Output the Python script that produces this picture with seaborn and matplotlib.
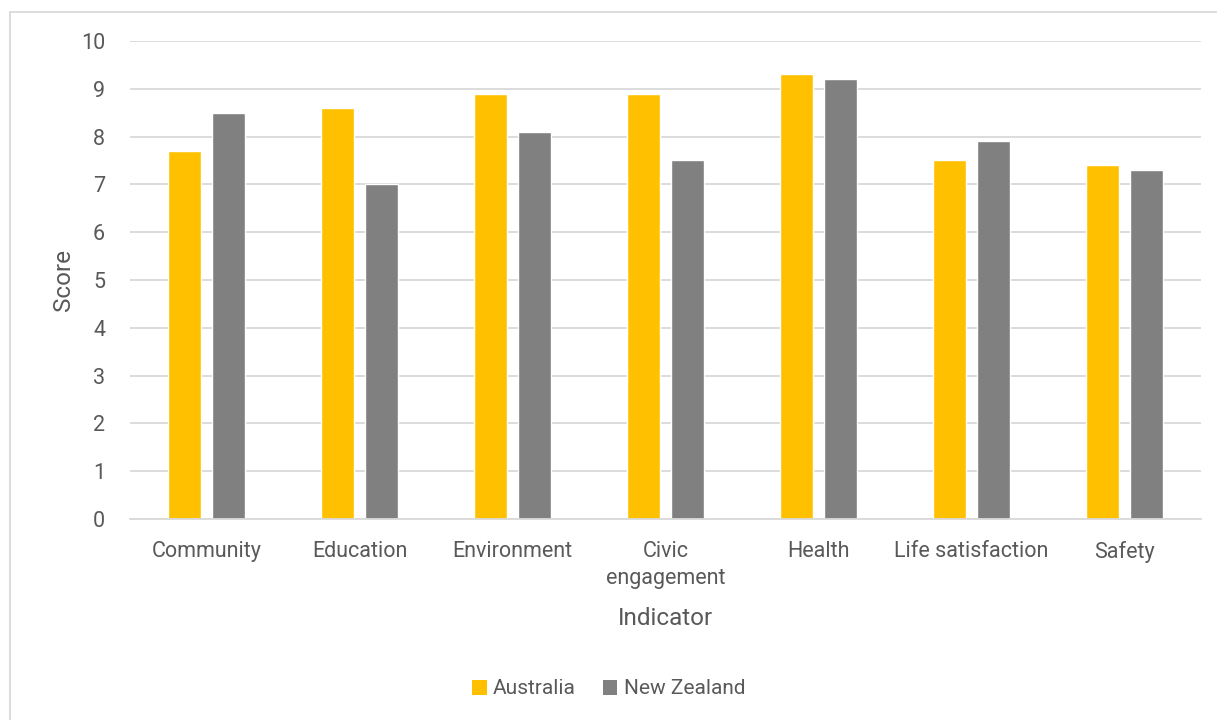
import matplotlib
matplotlib.use("Agg")
import matplotlib.pyplot as plt
import seaborn as sns
import pandas as pd
from matplotlib.patches import Rectangle, Patch

categories = ["Community", "Education", "Environment", "Civic\nengagement", "Health", "Life satisfaction", "Safety"]
australia = [7.7, 8.6, 8.9, 8.9, 9.3, 7.5, 7.4]
new_zealand = [8.5, 7.0, 8.1, 7.5, 9.2, 7.9, 7.3]
series = ["Australia", "New Zealand"]
colors = ["#FFC000", "#808080"]

df = pd.DataFrame({
    "Indicator": categories * 2,
    "Score": australia + new_zealand,
    "Country": [series[0]] * len(categories) + [series[1]] * len(categories),
})

sns.set_theme(style="white")
plt.rcParams["font.family"] = ["Roboto", "DejaVu Sans"]
text_color = "#595959"
grid_color = "#D9D9D9"

W, H = 1217, 720
fig = plt.figure(figsize=(W / 100, H / 100), dpi=100)
ax = fig.add_axes([130 / W, 1 - 519 / H, (1201 - 130) / W, (519 - 41) / H])

sns.barplot(data=df, x="Indicator", y="Score", hue="Country", order=categories,
            hue_order=series, palette=colors, width=0.575, gap=0.23,
            saturation=1, ax=ax, legend=False)

ax.set_ylim(0, 10)
ax.set_xlim(-0.5, len(categories) - 0.5)
ax.set_yticks(range(0, 11))
ax.yaxis.grid(True, color=grid_color, linewidth=1.3)
ax.set_axisbelow(True)
for s in ["top", "right", "left"]:
    ax.spines[s].set_visible(False)
ax.spines["bottom"].set_color(grid_color)
ax.spines["bottom"].set_linewidth(1.3)
ax.tick_params(axis="both", length=0, labelsize=15.5, colors=text_color)
ax.tick_params(axis="y", pad=18)
ax.tick_params(axis="x", pad=16)
for lbl in ax.get_xticklabels():
    lbl.set_linespacing(1.35)
ax.set_ylabel("Score", fontsize=17.5, color=text_color, labelpad=4)
ax.set_xlabel("Indicator", fontsize=17.5, color=text_color, labelpad=13)

handles = [Patch(facecolor=c, edgecolor="none") for c in colors]
fig.legend(handles, series, loc="center", bbox_to_anchor=(0.5, 1 - 689 / H),
           ncol=2, frameon=False, fontsize=15, labelcolor=text_color,
           handlelength=0.7, handleheight=0.7, handletextpad=0.3, columnspacing=1.3)

fig.patches.append(Rectangle((10 / W, -0.01), 1.0, 1 - 12 / H + 0.01, transform=fig.transFigure,
                             fill=False, edgecolor=grid_color, linewidth=1.3, zorder=0))

fig.savefig("out.png", dpi=100)
